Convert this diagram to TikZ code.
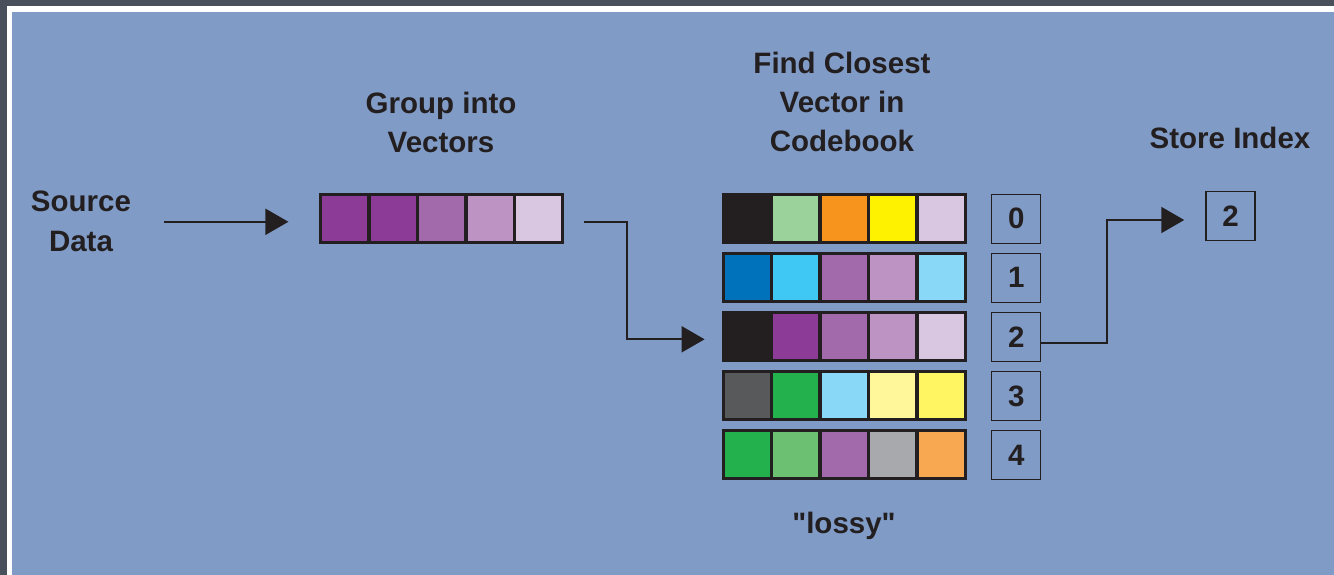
\documentclass[tikz,border=0pt]{standalone}
\usepackage{fontspec}
\setmainfont{Liberation Sans}[Ligatures=TeXOff]
\usetikzlibrary{arrows.meta}
\definecolor{dk}{HTML}{231F20}
\definecolor{frame}{HTML}{4A4F5C}
\definecolor{bg}{HTML}{809BC6}
\definecolor{cpA}{HTML}{8C3B96}
\definecolor{cpB}{HTML}{A36AAB}
\definecolor{cpC}{HTML}{BC93C3}
\definecolor{cpD}{HTML}{D9C6E1}
\definecolor{cgL}{HTML}{9BD19B}
\definecolor{cor}{HTML}{F7941D}
\definecolor{cye}{HTML}{FFF200}
\definecolor{cbl}{HTML}{0072BC}
\definecolor{ccy}{HTML}{3EC8F3}
\definecolor{clb}{HTML}{8AD8F7}
\definecolor{cgy}{HTML}{58595B}
\definecolor{cgr}{HTML}{22B14C}
\definecolor{cly}{HTML}{FFF799}
\definecolor{cyy}{HTML}{FFF462}
\definecolor{cgg}{HTML}{6BC072}
\definecolor{cls}{HTML}{A7A9AC}
\definecolor{coo}{HTML}{F9A852}
\newcommand{\vqcells}[2]{%
  \foreach \cc [count=\ii from 0] in {#2}
    \fill[\cc] ([xshift=3.2pt+\ii*48.5pt, yshift=-3.3pt]#1.north west) rectangle +(45,44.7);}
\begin{document}
\begin{tikzpicture}[x=1pt,y=-1pt,
  lbl/.style={font=\bfseries\fontsize{29.5}{39.3}\selectfont, text=dk, align=center, inner sep=0pt},
  arr/.style={draw=dk, line width=2pt, -{Triangle[length=23pt,width=26pt]}},
  vrow/.style={fill=dk, minimum width=245pt, minimum height=51pt, inner sep=0pt, draw=none},
  idx/.style={draw=dk, line width=1.5pt, minimum size=49pt, inner sep=0pt, text=dk,
    font=\bfseries\fontsize{29.5}{34}\selectfont}]
\useasboundingbox (0,0) rectangle (1334,575);
\fill[frame] (0,0) rectangle (1334,575);
\fill[white] (6.5,6) rectangle (1334,575);
\fill[bg] (12,12) rectangle (1334,575);

% labels (base anchor = baseline of the last line)
\node[lbl, anchor=base] (src) at (81,251) {Source\\Data};
\node[lbl, anchor=base] (lg) at (441,152.7) {Group into\\Vectors};
\node[lbl, anchor=base] (lf) at (842,151.7) {Find Closest\\Vector in\\Codebook};
\node[lbl, anchor=base] (ls) at (1230,148.3) {Store Index};
\node[lbl, anchor=base] (ll) at (844,533) {"lossy"};

% group vector
\node[vrow] (gv) at (441.8,218.8) {};
\vqcells{gv}{cpA,cpA,cpB,cpC,cpD}

% codebook rows
\node[vrow] (r0) at (844.3,218.8) {};
\node[vrow] (r1) at (844.3,277.8) {};
\node[vrow] (r2) at (844.3,336.8) {};
\node[vrow] (r3) at (844.3,395.8) {};
\node[vrow] (r4) at (844.3,454.8) {};
\vqcells{r0}{dk,cgL,cor,cye,cpD}
\vqcells{r1}{cbl,ccy,cpB,cpC,clb}
\vqcells{r2}{dk,cpA,cpB,cpC,cpD}
\vqcells{r3}{cgy,cgr,clb,cly,cyy}
\vqcells{r4}{cgr,cgg,cpB,cls,coo}

% index boxes
\node[idx] (i0) at (1016.2,218.8) {0};
\node[idx] (i1) at (1016.2,277.8) {1};
\node[idx] (i2) at (1016.2,336.8) {2};
\node[idx] (i3) at (1016.2,396.0) {3};
\node[idx] (i4) at (1016.2,455.0) {4};

% stored index
\node[idx] (st) at (1230.5,216.2) {2};

% connectors
\coordinate (g1) at ([yshift=-3pt]gv.west);
\draw[arr, shorten <=33pt, shorten >=30.7pt] (src.east |- g1) -- (g1);
\coordinate (k1) at (627.3,339.3);
\draw[arr, shorten <=19pt, shorten >=17pt] (gv.east |- g1) -| (k1) -- (r2.west |- k1);
\coordinate (k2) at (1107,220);
\draw[arr, shorten >=21pt] ([yshift=-5.7pt]i2.east) -| (k2) -- (st.west |- k2);
\end{tikzpicture}
\end{document}
